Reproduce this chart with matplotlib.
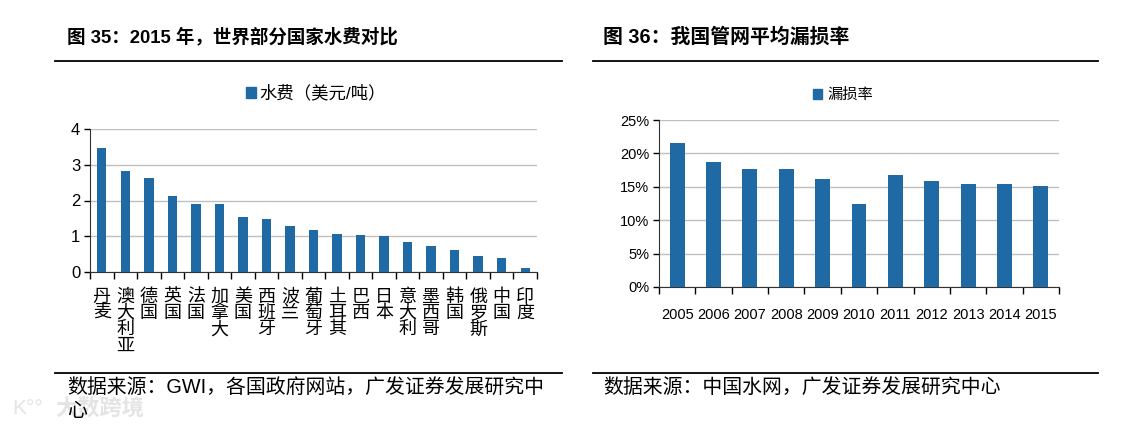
import matplotlib
matplotlib.use("Agg")
import matplotlib.pyplot as plt
from matplotlib.lines import Line2D
from matplotlib.patches import Patch
from matplotlib.ticker import FixedLocator, FuncFormatter

plt.rcParams['font.family'] = ['Liberation Sans', 'Noto Sans CJK SC', 'DejaVu Sans']

countries = ["丹麦", "澳大利亚", "德国", "英国", "法国", "加拿大", "美国", "西班牙", "波兰",
             "葡萄牙", "土耳其", "巴西", "日本", "意大利", "墨西哥", "韩国", "俄罗斯", "中国", "印度"]
water_price = [3.47, 2.82, 2.63, 2.12, 1.91, 1.91, 1.54, 1.49, 1.29,
               1.18, 1.07, 1.04, 1.02, 0.85, 0.72, 0.62, 0.44, 0.40, 0.11]

years = ["2005", "2006", "2007", "2008", "2009", "2010", "2011", "2012", "2013", "2014", "2015"]
leak_rate = [21.5, 18.65, 17.6, 17.6, 16.15, 12.45, 16.75, 15.8, 15.35, 15.35, 15.15]

bar_color = "#1f6aa5"
grid_color = "#c0c0c0"
W, H = 1128, 430

fig = plt.figure(figsize=(W / 100, H / 100), dpi=100)

def fx(px):
    return px / W

def fy(py):
    return 1 - py / H

# watermark (behind everything)
fig.text(fx(12), fy(409), "K°°", fontsize=15, color="#e4e4e4", va="center", ha="left", zorder=0)
fig.text(fx(55), fy(409), "大数跨境", fontsize=16, color="#e4e4e4", va="center", ha="left",
         fontweight="bold", zorder=0)

# rules
for (x0, x1) in [(55, 562), (593, 1098)]:
    for y in (60.5, 373):
        fig.add_artist(Line2D([fx(x0), fx(x1)], [fy(y), fy(y)], color="black", lw=1.3))

# titles
fig.text(fx(67), fy(37), "图 35：2015 年，世界部分国家水费对比", fontsize=13.3, fontweight="bold",
         va="center", ha="left")
fig.text(fx(603), fy(37), "图 36：我国管网平均漏损率", fontsize=14.3, fontweight="bold",
         va="center", ha="left")

# sources
fig.text(fx(67), fy(387), "数据来源：GWI，各国政府网站，广发证券发展研究中", fontsize=14.3,
         va="center", ha="left")
fig.text(fx(67), fy(412), "心", fontsize=14.3, va="center", ha="left")
fig.text(fx(603), fy(387), "数据来源：中国水网，广发证券发展研究中心", fontsize=14.3,
         va="center", ha="left")

# left chart
ax1 = fig.add_axes([fx(90), fy(272), fx(537 - 90), (272 - 129) / H])
x1 = list(range(len(countries)))
ax1.bar(x1, water_price, width=0.4, color=bar_color, zorder=3)
ax1.set_xlim(-0.5, len(countries) - 0.5)
ax1.set_ylim(0, 4)
ax1.set_yticks([0, 1, 2, 3, 4])
ax1.yaxis.grid(True, color=grid_color, lw=1, zorder=0)
ax1.set_xticks([i - 0.5 for i in range(len(countries) + 1)])
ax1.set_xticklabels([])
ax1.xaxis.set_minor_locator(FixedLocator(x1))
ax1.set_xticklabels(["\n".join(c) for c in countries], minor=True)
ax1.tick_params(axis="x", which="minor", length=0, pad=12, labelsize=13)
ax1.tick_params(axis="x", which="major", length=5, width=1, direction="out")
ax1.tick_params(axis="y", length=4, width=1, labelsize=12, pad=3)
for lab in ax1.get_xticklabels(minor=True):
    lab.set_linespacing(0.95)
    lab.set_va("top")
for s in ("top", "right"):
    ax1.spines[s].set_visible(False)
for s in ("left", "bottom"):
    ax1.spines[s].set_color("#333333")
ax1.legend(handles=[Patch(color=bar_color, label="水费（美元/吨）")], loc="center",
           bbox_to_anchor=((316 - 90) / 447, (272 - 93) / 143), frameon=False, fontsize=12.5,
           handlelength=0.6, handleheight=0.6, handletextpad=0.2)

# right chart
ax2 = fig.add_axes([fx(659), fy(287), fx(1059 - 659), (287 - 120) / H])
x2 = list(range(len(years)))
ax2.bar(x2, leak_rate, width=0.41, color=bar_color, zorder=3)
ax2.set_xlim(-0.5, len(years) - 0.5)
ax2.set_ylim(0, 25)
ax2.set_yticks([0, 5, 10, 15, 20, 25])
ax2.yaxis.set_major_formatter(FuncFormatter(lambda v, p: f"{int(v)}%"))
ax2.yaxis.grid(True, color=grid_color, lw=1, zorder=0)
ax2.set_xticks([i - 0.5 for i in range(len(years) + 1)])
ax2.set_xticklabels([])
ax2.xaxis.set_minor_locator(FixedLocator(x2))
ax2.set_xticklabels(years, minor=True)
ax2.tick_params(axis="x", which="minor", length=0, pad=15, labelsize=10.5)
ax2.tick_params(axis="x", which="major", length=5, width=1, direction="out")
ax2.tick_params(axis="y", length=4, width=1, labelsize=10.5, pad=3)
for s in ("top", "right"):
    ax2.spines[s].set_visible(False)
for s in ("left", "bottom"):
    ax2.spines[s].set_color("#333333")
ax2.legend(handles=[Patch(color=bar_color, label="漏损率")], loc="center",
           bbox_to_anchor=((843 - 659) / 400, (287 - 95) / 167), frameon=False, fontsize=11,
           handlelength=0.6, handleheight=0.6, handletextpad=0.3)

fig.savefig("out.png", dpi=100)
